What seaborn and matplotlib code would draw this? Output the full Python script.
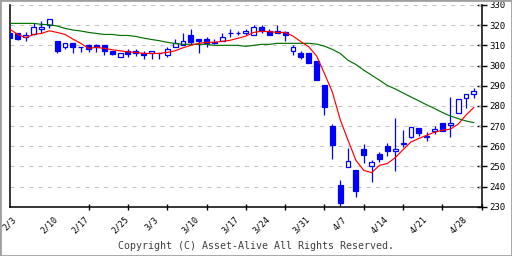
import matplotlib
matplotlib.use("Agg")
import matplotlib.pyplot as plt
from matplotlib.patches import Rectangle
import numpy as np
import pandas as pd
import seaborn as sns

# ---- data ----
opens = [316, 316, 314.2, 315.6, 318, 320, 312, 309, 311, 309.1,
         310, 310, 310, 307.3, 304, 307.3, 307, 306.2, 306, 306,
         305.2, 309, 310, 315, 313, 313, 311.8, 312, 316, 316,
         316, 315, 319, 317, 317, 316.4, 307, 306.3, 306.3, 302.2,
         290.3, 270, 241, 249.7, 248, 258.8, 250, 256, 260, 257.8,
         261.3, 264.8, 268.8, 264.8, 267.7, 271.6, 270.6, 276.7, 284.1, 286]
highs = [316, 316.2, 316.7, 321, 322, 323, 312.1, 311.1, 311.1, 309.3,
         310.5, 310.6, 310, 307.3, 306.2, 308, 308, 307.2, 307, 306.2,
         309, 313, 316, 318, 313.1, 314, 313, 316, 318, 317,
         318, 320, 320, 318, 320, 317, 310, 307, 306.3, 302.2,
         290.3, 271, 243, 259, 248, 261, 253, 257.3, 261.4, 274,
         268, 269.7, 268.8, 266.8, 270, 271.6, 284.5, 283.3, 286.1, 289]
lows = [313.8, 312.8, 312, 315, 316, 318.7, 306, 308, 306, 306.8,
        306.8, 306.8, 305, 305, 304, 304, 304.8, 303, 303, 303,
        304, 309, 310, 310.5, 306, 309, 310.5, 312, 314, 315,
        315, 315, 316, 315, 316, 312, 305, 303, 301, 293,
        275.5, 253.5, 230.5, 249.7, 235, 251.7, 242, 252, 255, 247.7,
        259.6, 264, 265, 262.6, 265.8, 267.7, 264.6, 276.7, 279, 284]
closes = [313.8, 313, 315.2, 319.2, 319, 323, 307, 311, 309, 309,
          308, 309, 307, 305.8, 306.2, 305.8, 306, 305, 307, 306,
          308, 311, 312, 311.5, 312, 311, 311.2, 314, 316, 316,
          317, 319, 317, 315, 316, 315, 309, 304, 301, 293,
          279.5, 260.5, 232, 252.8, 238, 255.8, 252, 253.6, 257.6, 258.8,
          261.6, 269.7, 266.5, 265, 268.7, 267.7, 271.6, 283.3, 286.1, 287.3]
ma_short = [317.9, 315.4, 313.8, 315.4, 315.9, 317.2, 316.4, 315.4, 313.1, 311,
            308.5, 309, 308.5, 307.8, 307.3, 306.8, 306.5, 306, 306, 306,
            306.5, 307.3, 308.8, 310, 311, 311.5, 311.5, 312, 312.5, 313.5,
            314.6, 316.4, 317, 316.8, 316.4, 316.4, 314.6, 311.8, 309.3, 304.7,
            296, 286.9, 273.2, 262.9, 253, 248, 246.9, 250.5, 251.4, 254.3,
            258.3, 262.1, 263.8, 265.4, 266.9, 267.9, 268.4, 270.9, 275.4, 279.2]
ma_long = [320.9, 320.9, 320.9, 320.9, 320.4, 320.2, 319.6, 318.4, 317.6, 317.1,
           316.4, 315.9, 315.4, 315.4, 314.9, 314.9, 314.4, 313.6, 312.9, 312.3,
           311.5, 310.9, 310.5, 310.5, 310.5, 310.5, 310, 310, 310, 310,
           309.5, 310, 310.5, 310.5, 311, 311, 311, 311, 311, 310.6,
           309.6, 308, 306, 302.6, 300.5, 297.7, 295.2, 292.7, 290.1, 288.4,
           286.4, 284.4, 282.5, 280.5, 278.7, 276.7, 275, 273.7, 272.5, 271.7]
label_pos = [0, 5, 9, 14, 18, 23, 28, 32, 37, 42, 47, 52, 57]
label_txt = ["2/3", "2/10", "2/17", "2/25", "3/3", "3/10", "3/17", "3/24",
             "3/31", "4/7", "4/14", "4/21", "4/28"]
y_ticks = [230, 240, 250, 260, 270, 280, 290, 300, 310, 320, 330]

df = pd.DataFrame({"i": np.arange(len(opens)), "o": opens, "h": highs,
                   "l": lows, "c": closes, "ms": ma_short, "ml": ma_long})

# ---- style ----
sns.set_theme(style="white")
plt.rcParams["font.family"] = ["DejaVu Sans Mono", "DejaVu Sans"]

fig = plt.figure(figsize=(5.12, 2.56), dpi=100)
fig.patch.set_facecolor("white")
ax = fig.add_axes([10 / 512, 1 - 206.7 / 256, 471.7 / 512, 201.7 / 256])
ax.set_facecolor("white")

# grid
for v in y_ticks[1:]:
    ax.axhline(v, color="#c4c4c4", lw=0.75, ls=(0, (4, 5)), zorder=1)

blue = "#0000ff"
up = df["c"] >= df["o"]
ax.vlines(df["i"], df["l"], df["h"], color=blue, lw=0.9, zorder=2)
ax.bar(df["i"], (df["c"] - df["o"]).abs(), bottom=df[["o", "c"]].min(axis=1),
       width=0.62, color=np.where(up, "white", blue), edgecolor=blue,
       linewidth=0.9, zorder=3)

sns.lineplot(data=df, x="i", y="ml", color="#007000", lw=0.85, ax=ax, zorder=4)
sns.lineplot(data=df, x="i", y="ms", color="#ff0000", lw=0.85, ax=ax, zorder=5)

ax.set_xlim(0, 60)
ax.set_ylim(230, 330)
ax.set_xlabel("")
ax.set_ylabel("")

# axes spines
for s in ["left", "bottom", "right"]:
    ax.spines[s].set_visible(True)
    ax.spines[s].set_color("black")
    ax.spines[s].set_linewidth(1.1)
ax.spines["top"].set_visible(False)

# y ticks on right
ax.yaxis.tick_right()
ax.set_yticks(y_ticks)
ax.set_yticklabels([str(v) for v in y_ticks])
ax.tick_params(axis="y", which="major", direction="inout", length=6.5,
               width=1.0, color="black", labelsize=6.5, pad=2.5,
               left=False, right=True, labelcolor="black")

# x ticks: marks every 5 trading days, labels on Mondays
ax.set_xticks(np.arange(0, 61, 5), minor=True)
ax.set_xticks(label_pos)
ax.set_xticklabels(label_txt, rotation=45, ha="center", va="top")
ax.tick_params(axis="x", which="minor", direction="inout", length=5,
               width=1.0, color="black", bottom=True)
ax.tick_params(axis="x", which="major", length=0, labelsize=6,
               pad=6, labelcolor="black", bottom=True)

fig.text(0.5, 1 - 246 / 256, "Copyright (C) Asset-Alive All Rights Reserved.",
         ha="center", va="center", fontsize=7.2, color="#404040")

fig.add_artist(Rectangle((0, 0), 1, 1, transform=fig.transFigure, fill=False,
                         ec="#a0a0a0", lw=2.0))

fig.savefig("out.png", dpi=100, facecolor="white")
